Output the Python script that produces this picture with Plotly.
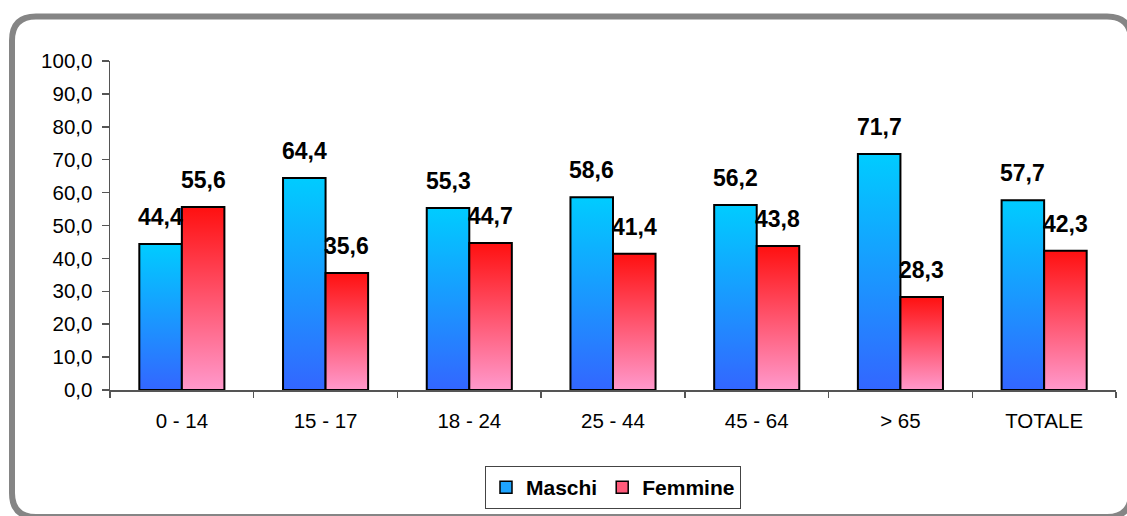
import plotly.graph_objects as go

categories = ["0 - 14", "15 - 17", "18 - 24", "25 - 44", "45 - 64", "> 65", "TOTALE"]
maschi = [44.4, 64.4, 55.3, 58.6, 56.2, 71.7, 57.7]
femmine = [55.6, 35.6, 44.7, 41.4, 43.8, 28.3, 42.3]
series_names = ["Maschi", "Femmine"]
y_ticks = [0, 10, 20, 30, 40, 50, 60, 70, 80, 90, 100]

W, H = 1127, 516
ML, MR, MT, MB = 110, 11, 61, 126
PW, PH = W - ML - MR, H - MT - MB

M_TOP, M_BOT = "#00CCFF", "#3366FF"
F_TOP, F_BOT = "#FF1010", "#FF99CC"
BAR_W = 0.296
FONT = "Liberation Sans, Arial, sans-serif"

fig = go.Figure()


def bar_trace(x0, x1, v, top, bot, name):
    return go.Scatter(
        x=[x0, x1, x1, x0, x0], y=[0, 0, v, v, 0],
        mode="lines", fill="toself",
        line=dict(color="black", width=2),
        fillgradient=dict(type="vertical", colorscale=[[0, bot], [1, top]], start=0, stop=v),
        showlegend=False, hoverinfo="skip", name=name,
    )


for i, (m, f) in enumerate(zip(maschi, femmine)):
    c = i + 0.5
    fig.add_trace(bar_trace(c - BAR_W, c, m, M_TOP, M_BOT, series_names[0]))
    fig.add_trace(bar_trace(c, c + BAR_W, f, F_TOP, F_BOT, series_names[1]))

# legend entries
fig.add_trace(go.Bar(x=[None], y=[None], name=series_names[0],
                     marker=dict(color="#1EA4FF", line=dict(color="black", width=1.5))))
fig.add_trace(go.Bar(x=[None], y=[None], name=series_names[1],
                     marker=dict(color="#FF5A7A", line=dict(color="black", width=1.5))))

annotations = []
for i, (m, f) in enumerate(zip(maschi, femmine)):
    c = i + 0.5
    for xv, v in ((c - BAR_W / 2, m), (c + BAR_W / 2, f)):
        annotations.append(dict(
            x=xv, y=v, xref="x", yref="y", text=f"{v:.1f}".replace(".", ","),
            showarrow=False, yanchor="middle", yshift=27,
            font=dict(family=FONT, size=23, color="black", weight="bold"),
        ))

# rounded border in pixel-anchored paper coords
def px_x(p):
    return (p - ML) / PW


def px_y(p):
    return (H - MB - p) / PH


L, R, T, B, r = 12, 1131, 16.5, 517, 24
path = (
    f"M {px_x(L)},{px_y(T + r)} "
    f"Q {px_x(L)},{px_y(T)} {px_x(L + r)},{px_y(T)} "
    f"L {px_x(R - r)},{px_y(T)} "
    f"Q {px_x(R)},{px_y(T)} {px_x(R)},{px_y(T + r)} "
    f"L {px_x(R)},{px_y(B - r)} "
    f"Q {px_x(R)},{px_y(B)} {px_x(R - r)},{px_y(B)} "
    f"L {px_x(L + r)},{px_y(B)} "
    f"Q {px_x(L)},{px_y(B)} {px_x(L)},{px_y(B - r)} Z"
)

fig.update_layout(
    width=W, height=H,
    margin=dict(l=ML, r=MR, t=MT, b=MB, pad=0, autoexpand=False),
    paper_bgcolor="white", plot_bgcolor="white",
    separators=", ",
    font=dict(family=FONT, size=20, color="black"),
    xaxis=dict(
        range=[0, len(categories)], tickmode="array",
        tickvals=[i + 0.5 for i in range(len(categories))], ticktext=categories,
        ticks="", showgrid=False, zeroline=False,
        showline=True, linecolor="#555555", linewidth=1.5,
        tickfont=dict(size=20.5), ticklabelstandoff=12,
        minor=dict(tickmode="array", tickvals=list(range(len(categories) + 1)),
                   ticks="outside", ticklen=6, tickcolor="#555555", tickwidth=1.5, showgrid=False),
        fixedrange=True,
    ),
    yaxis=dict(
        range=[0, 100], tickmode="array", tickvals=y_ticks, tickformat=".1f",
        ticks="outside", ticklen=7, tickcolor="#555555", tickwidth=1.5,
        showgrid=False, zeroline=False,
        showline=True, linecolor="#555555", linewidth=1.5,
        tickfont=dict(size=20.5), ticklabelstandoff=5,
        fixedrange=True,
    ),
    legend=dict(
        orientation="h", x=0.5, xanchor="center", y=(H - MB - 466) / PH, yanchor="top",
        bordercolor="#444444", borderwidth=1,
        font=dict(family=FONT, size=21, weight="bold"),
        itemwidth=30, tracegroupgap=0,
    ),
    annotations=annotations,
    shapes=[dict(type="path", path=path, xref="paper", yref="paper",
                 line=dict(color="#858585", width=6), layer="below")],
    showlegend=True,
)

fig.write_html("out.html", config={"displayModeBar": False, "staticPlot": True},
               post_script="document.body.style.margin='0';document.body.style.overflow='hidden';")
